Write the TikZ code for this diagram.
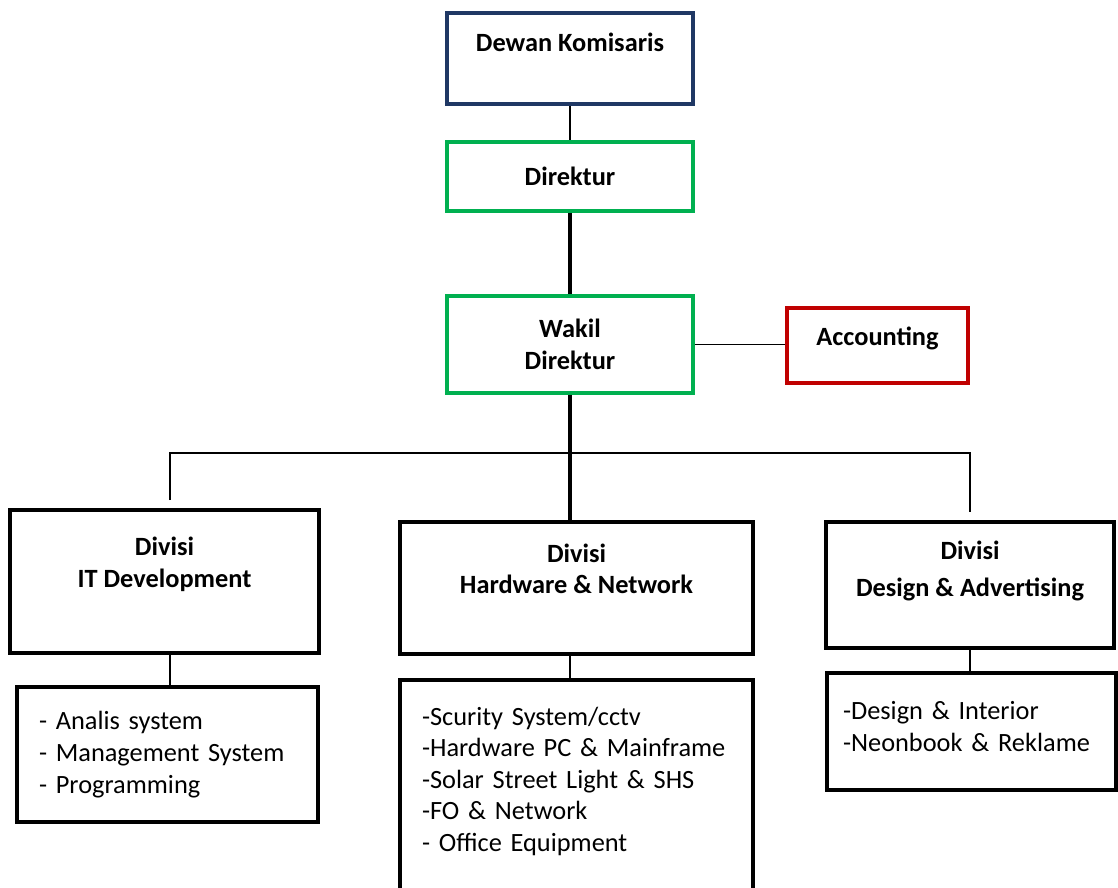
\documentclass[tikz,border=0pt]{standalone}
\usepackage{fontspec}
\setmainfont{Carlito}
\usetikzlibrary{positioning}
\definecolor{navybox}{RGB}{31,56,100}
\definecolor{greenbox}{RGB}{0,176,80}
\definecolor{redbox}{RGB}{192,0,0}

\begin{document}
\begin{tikzpicture}[x=0.02cm, y=-0.02cm, draw=black,
	box/.style={draw, rectangle, line width=2.2pt, align=center, font=\fontsize{15}{18}\selectfont\bfseries},
	listbox/.style={draw, rectangle, line width=2.2pt, align=left, inner xsep=0.44cm, font=\fontsize{15}{18}\selectfont},
	thin/.style={line width=0.8pt},
	thick/.style={line width=1.8pt}]
	\useasboundingbox (0,0) rectangle (1118,888);
	%top
	\node[box, draw=navybox, minimum width=4.92cm, minimum height=1.82cm] (dewan) at (570,58.5) {Dewan Komisaris\\\mbox{}};
	\node[box, draw=greenbox, minimum width=4.92cm, minimum height=1.38cm] (direktur) at (570,176.5) {Direktur};
	\node[box, draw=greenbox, minimum width=4.92cm, minimum height=1.94cm] (wakil) at (570,344.5) {Wakil\\Direktur};
	\node[box, draw=redbox, minimum width=3.62cm, minimum height=1.5cm] (acc) at (877.5,345.5) {Accounting\\[-8pt]\mbox{}};
	%divisi
	\node[box, minimum width=6.18cm, minimum height=2.86cm] (divit) at (164.5,581.5) {Divisi\\IT Development\\[4pt]\mbox{}};
	\node[box, minimum width=7.06cm, minimum height=2.64cm] (divhw) at (576.5,588) {Divisi\\Hardware \& Network\\[4pt]\mbox{}};
	\node[box, minimum width=5.76cm, minimum height=2.52cm] (divda) at (970,585) {Divisi\\[3pt]Design \& Advertising\\\mbox{}};
	%tugas
	\node[listbox, text width=5.14cm, minimum height=2.7cm] (listit) at (167.5,754.5) {- Analis system\\- Management System\\- Programming};
	\node[listbox, text width=6.18cm, minimum height=4.3cm] (listhw) at (576.5,787.5) {-Scurity System/cctv\\-Hardware PC \& Mainframe\\-Solar Street Light \& SHS\\-FO \& Network\\- Office Equipment\\[-8.5pt]\mbox{}};
	\node[listbox, text width=5.14cm, inner xsep=0.32cm, minimum height=2.34cm] (listda) at (971.5,731.5) {-Design \& Interior\\-Neonbook \& Reklame\\[-12pt]\mbox{}};
	%lines
	\coordinate (bus) at (570,453);
	\draw[thin] (dewan) -- (direktur);
	\draw[thick] (direktur) -- (wakil);
	\draw[thin] (wakil.east) -- (wakil.east -| acc.west);
	\draw[thick] (wakil.south) -- (wakil.south |- divhw.north);
	\draw[thin, shorten <=0.16cm, shorten >=0.16cm] ([xshift=0.11cm]divit.north) -- ([xshift=0.11cm]divit.north |- bus) -- (divda.north |- bus) -- (divda.north);
	\draw[thin] ([xshift=0.11cm]divit.south) -- ([xshift=0.11cm]divit.south |- listit.north);
	\draw[thin] (divhw.south -| wakil.south) -- (wakil.south |- listhw.north);
	\draw[thin] (divda.south) -- (divda.south |- listda.north);
\end{tikzpicture}
\end{document}
